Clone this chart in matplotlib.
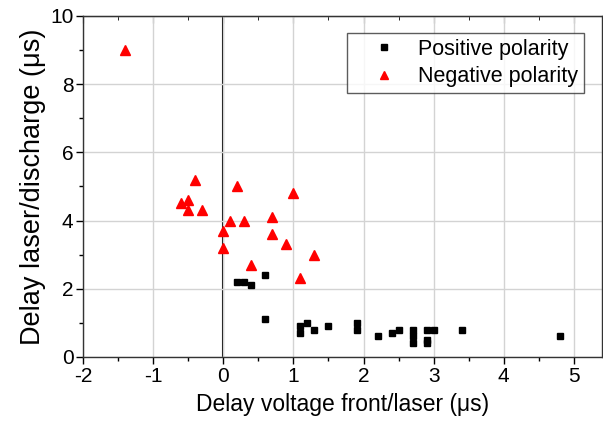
import matplotlib
matplotlib.use("Agg")
import matplotlib.pyplot as plt
from matplotlib.ticker import MultipleLocator

# Positive polarity (black squares)
pos_x = [0.6, 0.2, 0.3, 0.4, 0.6, 1.1, 1.1, 1.2, 1.3, 1.5, 1.9, 1.9,
         2.2, 2.4, 2.5, 2.7, 2.7, 2.7, 2.9, 2.9, 2.9, 3.0, 3.4, 4.8]
pos_y = [2.4, 2.2, 2.2, 2.1, 1.1, 0.9, 0.7, 1.0, 0.8, 0.9, 1.0, 0.8,
         0.6, 0.7, 0.8, 0.8, 0.6, 0.4, 0.8, 0.5, 0.4, 0.8, 0.8, 0.6]

# Negative polarity (red triangles)
neg_x = [-1.4, -0.4, 0.2, 1.0, -0.5, -0.6, -0.5, -0.3, 0.1, 0.3,
         0.7, 0.0, 0.7, 0.9, 1.3, 0.0, 0.4, 1.1]
neg_y = [9.0, 5.2, 5.0, 4.8, 4.6, 4.5, 4.3, 4.3, 4.0, 4.0,
         4.1, 3.7, 3.6, 3.3, 3.0, 3.2, 2.7, 2.3]

plt.rcParams["font.family"] = ["Liberation Sans", "DejaVu Sans"]
plt.rcParams["axes.unicode_minus"] = False

fig = plt.figure(figsize=(6.03, 4.30), dpi=100)
ax = fig.add_axes([0.138, 0.170, 0.860, 0.793])

ax.grid(True, which="major", color="#d3d3d3", linewidth=1.0, zorder=0)
ax.axvline(0, color="black", linewidth=1.5, zorder=1)

ax.plot(pos_x, pos_y, "s", color="black", markersize=5, linestyle="none",
        label="Positive polarity", zorder=3)
ax.plot(neg_x, neg_y, "^", color="red", markersize=7, linestyle="none",
        label="Negative polarity", zorder=3)

ax.set_xlim(-2, 5.4)
ax.set_ylim(0, 10)
ax.xaxis.set_major_locator(MultipleLocator(1))
ax.xaxis.set_minor_locator(MultipleLocator(0.5))
ax.yaxis.set_major_locator(MultipleLocator(2))
ax.yaxis.set_minor_locator(MultipleLocator(1))

ax.tick_params(which="both", direction="out", labelsize=15, top=False, right=False)
ax.tick_params(which="major", length=5, width=1, pad=2)
ax.tick_params(which="minor", length=3, width=1)

# inward ticks along the top edge
top = ax.secondary_xaxis("top")
top.set_xticks(range(-2, 6))
top.xaxis.set_minor_locator(MultipleLocator(0.5))
top.tick_params(which="both", direction="in", labeltop=False)
top.tick_params(which="major", length=5)
top.tick_params(which="minor", length=3)

for s in ax.spines.values():
    s.set_color("#333333")
    s.set_linewidth(1.0)

ax.set_xlabel("Delay voltage front/laser (\u03bcs)", fontsize=16.5, labelpad=5)
ax.set_ylabel("Delay laser/discharge (\u03bcs)", fontsize=19.5, labelpad=3)

leg = ax.legend(loc="upper right", bbox_to_anchor=(0.965, 0.95), borderaxespad=0,
                fontsize=15.5, frameon=True, fancybox=False, edgecolor="#333333",
                handletextpad=0.1, borderpad=0.28, labelspacing=0.3,
                handlelength=2.9, markerscale=0.9)
leg.get_frame().set_linewidth(1.0)

fig.savefig("out.png", dpi=100)
